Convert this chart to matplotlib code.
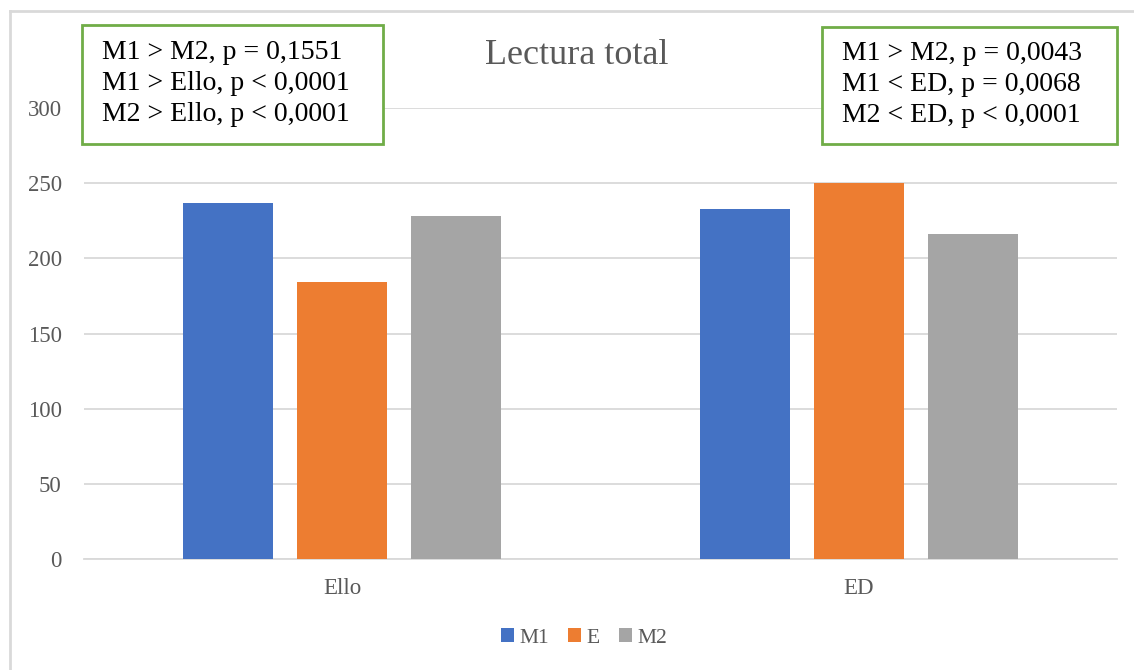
import numpy as np
import matplotlib
matplotlib.use('Agg')
import matplotlib.pyplot as plt
from matplotlib.patches import Rectangle, Patch
from matplotlib.lines import Line2D

# data
categories = ['Ello', 'ED']
series = ['M1', 'E', 'M2']
m1 = [237, 233]
e = [184, 250]
m2 = [228, 216]
values = [m1, e, m2]
colors = ['#4472C4', '#ED7D31', '#A5A5A5']

title = 'Lectura total'
box_left = 'M1 > M2, p = 0,1551\nM1 > Ello, p < 0,0001\nM2 > Ello, p < 0,0001'
box_right = 'M1 > M2, p = 0,0043\nM1 < ED, p = 0,0068\nM2 < ED, p < 0,0001'

W, H = 1134, 670
def fx(x):
    return x / W
def fy(y):
    return 1 - y / H

plt.rcParams['font.family'] = ['Liberation Serif', 'DejaVu Serif']
gray = '#595959'
grid = '#D9D9D9'

fig = plt.figure(figsize=(W / 100, H / 100), dpi=100)
ax = fig.add_axes([fx(84), fy(559), fx(1117) - fx(84), fy(108) - fy(559)])

x = np.arange(len(categories))
step = 0.221
width = 0.174
for i, (vals, c) in enumerate(zip(values, colors)):
    ax.bar(x + (i - 1) * step, vals, width=width, color=c, zorder=3)

ax.set_xlim(-0.5, 1.5)
ax.set_ylim(0, 300)
ax.set_yticks(np.arange(0, 301, 50))
ax.set_xticks(x)
ax.set_xticklabels(categories)
ax.yaxis.grid(True, color=grid, lw=1.3, zorder=0)
for s in ['top', 'right', 'left']:
    ax.spines[s].set_visible(False)
ax.spines['bottom'].set_color(grid)
ax.spines['bottom'].set_linewidth(1.3)
ax.tick_params(axis='both', length=0, labelsize=16.5, labelcolor=gray)
ax.tick_params(axis='y', pad=16)
ax.tick_params(axis='x', pad=14)

# outer chart border (only left and top visible in the crop)
fig.add_artist(Line2D([fx(10), fx(10)], [0, fy(11)], color=grid, lw=2))
fig.add_artist(Line2D([fx(10), 1], [fy(11), fy(11)], color=grid, lw=2))

fig.text(fx(577), fy(55), title, ha='center', va='center', fontsize=26, color=gray)

# annotation boxes
for (x0, y0, x1, y1, txt) in [(82, 25, 383, 144, box_left), (822, 27, 1117, 144, box_right)]:
    fig.add_artist(Rectangle((fx(x0), fy(y1)), fx(x1) - fx(x0), fy(y0) - fy(y1),
                             transform=fig.transFigure, facecolor='white',
                             edgecolor='#70AD47', lw=2, zorder=5))
    fig.text(fx(x0 + 20), fy((y0 + y1) / 2 - 1), txt, ha='left', va='center',
             fontsize=20, color='black', linespacing=1.3, zorder=6)

handles = [Patch(facecolor=c, label=s) for c, s in zip(colors, series)]
leg = fig.legend(handles=handles, loc='center', bbox_to_anchor=(fx(584), fy(638)),
                 ncol=3, frameon=False, fontsize=15.5, handlelength=0.6,
                 handleheight=0.6, handletextpad=0.25, columnspacing=0.9)
for t in leg.get_texts():
    t.set_color(gray)

fig.savefig('out.png', dpi=100)
